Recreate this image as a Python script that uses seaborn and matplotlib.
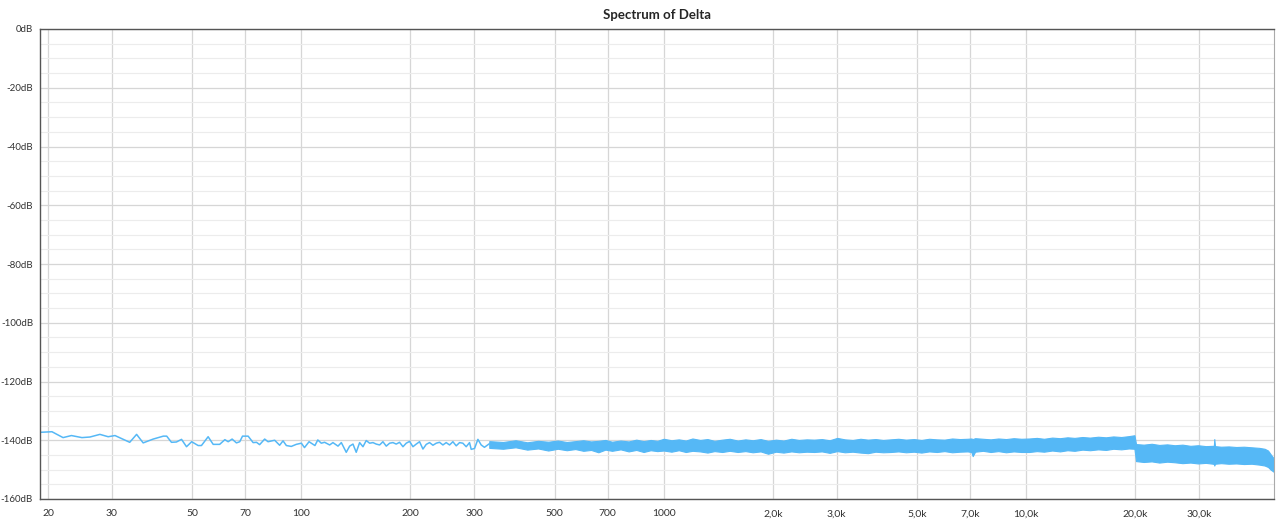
import numpy as np
import matplotlib
matplotlib.use("Agg")
import matplotlib.pyplot as plt
from matplotlib.ticker import MultipleLocator, NullLocator, FuncFormatter
import seaborn as sns

# single trace below ~320 Hz (Hz, dB)
line_freq = [19.0, 20.5, 22.0, 23.2, 24.8, 26.1, 27.8, 29.3, 30.6, 33.6, 35.1, 36.6,
             39.0, 41.6, 42.5, 43.8, 45.2, 46.7, 48.2, 49.8, 51.9, 53.0, 55.3, 57.1,
             59.5, 61.5, 62.8, 64.4, 66.2, 67.6, 68.8, 71.3, 73.6, 75.2, 76.7, 79.2,
             80.9, 84.4, 87.1, 89.0, 90.9, 93.8, 96.8, 100, 102, 105, 109, 111,
             113.5, 115.9, 119.7, 122.2, 126.2, 128.9, 133.0, 135.9, 138.8, 141.7,
             144.8, 147.9, 151.0, 154.3, 157.6, 160.9, 164.4, 167.9, 171.5, 175.2,
             178.9, 182.7, 186.6, 190.7, 194.7, 198.9, 203.2, 207.5, 211.9, 216.5,
             221.1, 225.8, 230.7, 235.6, 240.6, 245.8, 251.0, 256.4, 261.9, 267.5,
             273.2, 279.0, 285.0, 291.1, 294.2, 300.5, 307.0, 313.5, 320.0, 330.0]
line_db = [-137.3, -137.1, -139.1, -138.4, -139.1, -138.9, -138.0, -138.8, -138.4, -140.7, -138.0, -140.9,
           -139.6, -138.6, -138.6, -140.7, -140.6, -139.7, -142.2, -140.5, -141.8, -141.8, -138.8, -141.4,
           -141.4, -139.8, -140.5, -139.6, -140.9, -140.5, -138.6, -138.6, -140.8, -140.7, -141.5, -139.6,
           -140.5, -140.0, -141.7, -140.2, -141.8, -142.1, -141.4, -141.0, -142.5, -140.5, -141.8, -139.9,
           -141.0, -140.7, -141.6, -140.8, -142.0, -140.8, -144.1, -142.0, -141.3, -144.1,
           -140.8, -142.2, -140.1, -141.0, -140.8, -141.3, -141.6, -140.5, -142.0, -141.0,
           -140.8, -141.3, -140.7, -142.2, -141.0, -140.4, -142.2, -141.3, -140.5, -143.0,
           -141.4, -140.8, -141.7, -141.0, -140.7, -141.6, -140.8, -141.6, -140.5, -141.9,
           -140.8, -141.0, -142.2, -140.8, -143.1, -142.8, -139.7, -141.6, -142.4, -141.2]

# dense noise band above ~330 Hz: upper / lower envelope (Hz, dB)
band_freq = [330, 360, 390, 420, 450, 480, 510, 540, 570, 600,
             630, 660, 690, 720, 760, 800, 840, 880, 920, 960,
             1000, 1050, 1100, 1150, 1200, 1260, 1320, 1380, 1450, 1520,
             1600, 1680, 1760, 1850, 1940, 2040, 2140, 2250, 2360, 2480,
             2600, 2730, 2870, 3010, 3160, 3320, 3490, 3660, 3840, 4030,
             4230, 4440, 4660, 4900, 5140, 5400, 5670, 5950, 6250, 6560,
             6890, 7060, 7120, 7230, 7600, 7980, 8380, 8800, 9240, 9700,
             10200, 10700, 11200, 11800, 12400, 13000, 13600, 14300, 15000, 15800,
             16600, 17400, 18300, 19200, 19900, 20100, 21100, 22200, 23300, 24500,
             25700, 27000, 28400, 29800, 31300, 32800, 32950, 33050, 33200, 34500,
             36200, 38000, 39900, 41900, 44000, 45500, 46500, 47300, 48300]
band_hi = [-140.3, -140.6, -140.0, -140.7, -140.2, -140.5, -140.1, -140.6, -140.3, -140.0,
           -140.4, -140.2, -139.9, -140.5, -140.1, -140.4, -139.8, -140.3, -139.9, -140.2,
           -139.5, -140.0, -139.7, -140.1, -139.4, -139.9, -139.6, -140.2, -139.8, -139.5,
           -140.1, -139.7, -140.0, -139.6, -140.2, -139.8, -140.1, -139.5, -139.9, -139.7,
           -139.8, -139.6, -140.0, -139.2, -139.7, -139.9, -139.5, -139.8, -139.6, -139.9,
           -139.7, -139.5, -139.8, -139.6, -139.9, -139.5, -139.7, -139.8, -139.4, -139.6,
           -139.5, -139.4, -139.6, -139.3, -139.5, -139.7, -139.4, -139.6, -139.3, -139.5,
           -139.4, -139.2, -139.5, -139.1, -139.3, -139.0, -139.2, -138.9, -139.1, -138.8,
           -139.0, -138.7, -138.9, -138.6, -138.3, -141.3, -141.5, -141.2, -141.6, -141.4,
           -141.7, -141.5, -141.9, -141.7, -142.0, -141.9, -142.1, -139.6, -142.0, -142.2,
           -142.1, -142.3, -142.2, -142.4, -142.6, -142.9, -143.5, -144.8, -146.3]
band_lo = [-142.6, -142.9, -142.4, -143.2, -142.8, -143.5, -142.9, -143.4, -143.0, -143.6,
           -143.3, -144.1, -143.2, -143.6, -143.1, -143.8, -143.3, -144.0, -143.4, -143.7,
           -143.5, -143.9, -143.4, -144.0, -143.6, -143.8, -144.2, -143.7, -144.0, -143.6,
           -144.0, -143.7, -144.1, -143.8, -144.6, -143.9, -144.2, -143.8, -144.1, -143.9,
           -144.0, -143.8, -144.3, -143.7, -144.1, -143.9, -144.2, -144.4, -143.9, -144.1,
           -144.0, -143.8, -144.1, -143.9, -144.2, -143.8, -144.0, -143.7, -144.1, -143.9,
           -143.8, -144.0, -145.4, -143.9, -143.6, -144.0, -143.7, -144.1, -143.8, -144.0,
           -144.0, -143.7, -143.9, -143.5, -143.8, -143.4, -143.6, -143.2, -143.4, -143.1,
           -143.3, -142.9, -143.1, -142.8, -142.9, -147.1, -147.4, -147.2, -147.6, -147.3,
           -147.5, -147.8, -147.6, -147.9, -147.7, -148.0, -147.9, -148.6, -148.0, -147.8,
           -148.0, -147.9, -148.1, -148.0, -148.3, -148.6, -149.1, -150.0, -150.8]

tick_freqs = [20, 30, 50, 70, 100, 200, 300, 500, 700, 1000, 2000, 3000, 5000, 7000, 10000, 20000, 30000]
tick_labels = ['20', '30', '50', '70', '100', '200', '300', '500', '700', '1000',
               '2,0k', '3,0k', '5,0k', '7,0k', '10,0k', '20,0k', '30,0k']

sns.set_style("white")
plt.rcParams['font.family'] = ['Lato', 'DejaVu Sans']

blue = '#55b8f6'
fig = plt.figure(figsize=(12.8, 5.27), dpi=100)
ax = fig.add_axes([40 / 1280, 1 - 499 / 527, 1234 / 1280, 470 / 527])

ax.fill_between(band_freq, band_lo, band_hi, color=blue, lw=0.8, edgecolor=blue)
sns.lineplot(x=line_freq, y=line_db, ax=ax, color=blue, lw=1.1, sort=False)

ax.set_xscale('log')
ax.set_xlim(19, 48300)
ax.set_ylim(-160, 0)

ax.set_xticks(tick_freqs)
ax.set_xticklabels(tick_labels)
ax.xaxis.set_minor_locator(NullLocator())
ax.yaxis.set_major_locator(MultipleLocator(20))
ax.yaxis.set_minor_locator(MultipleLocator(5))
ax.yaxis.set_major_formatter(FuncFormatter(lambda v, p: '{}dB'.format(int(round(v)))))

ax.grid(which='major', color='#d6d6d6', lw=0.9)
ax.grid(which='minor', axis='y', color='#ececec', lw=0.8)
ax.set_axisbelow(True)

ax.tick_params(axis='both', which='major', labelsize=7, colors='#333333', length=3.5, width=0.8, pad=1.5)
ax.tick_params(axis='x', which='major', labelsize=7.5, pad=4)
ax.tick_params(axis='y', which='minor', length=2.5, width=0.8, colors='#333333')
for side in ['left', 'bottom', 'top']:
    ax.spines[side].set_color('#555555')
    ax.spines[side].set_linewidth(1)
ax.spines['right'].set_color('#aaaaaa')

ax.set_title('Spectrum of Delta', fontsize=9.5, fontweight='bold', pad=7)
ax.set_xlabel('')
ax.set_ylabel('')

fig.savefig('out.png', dpi=100)
